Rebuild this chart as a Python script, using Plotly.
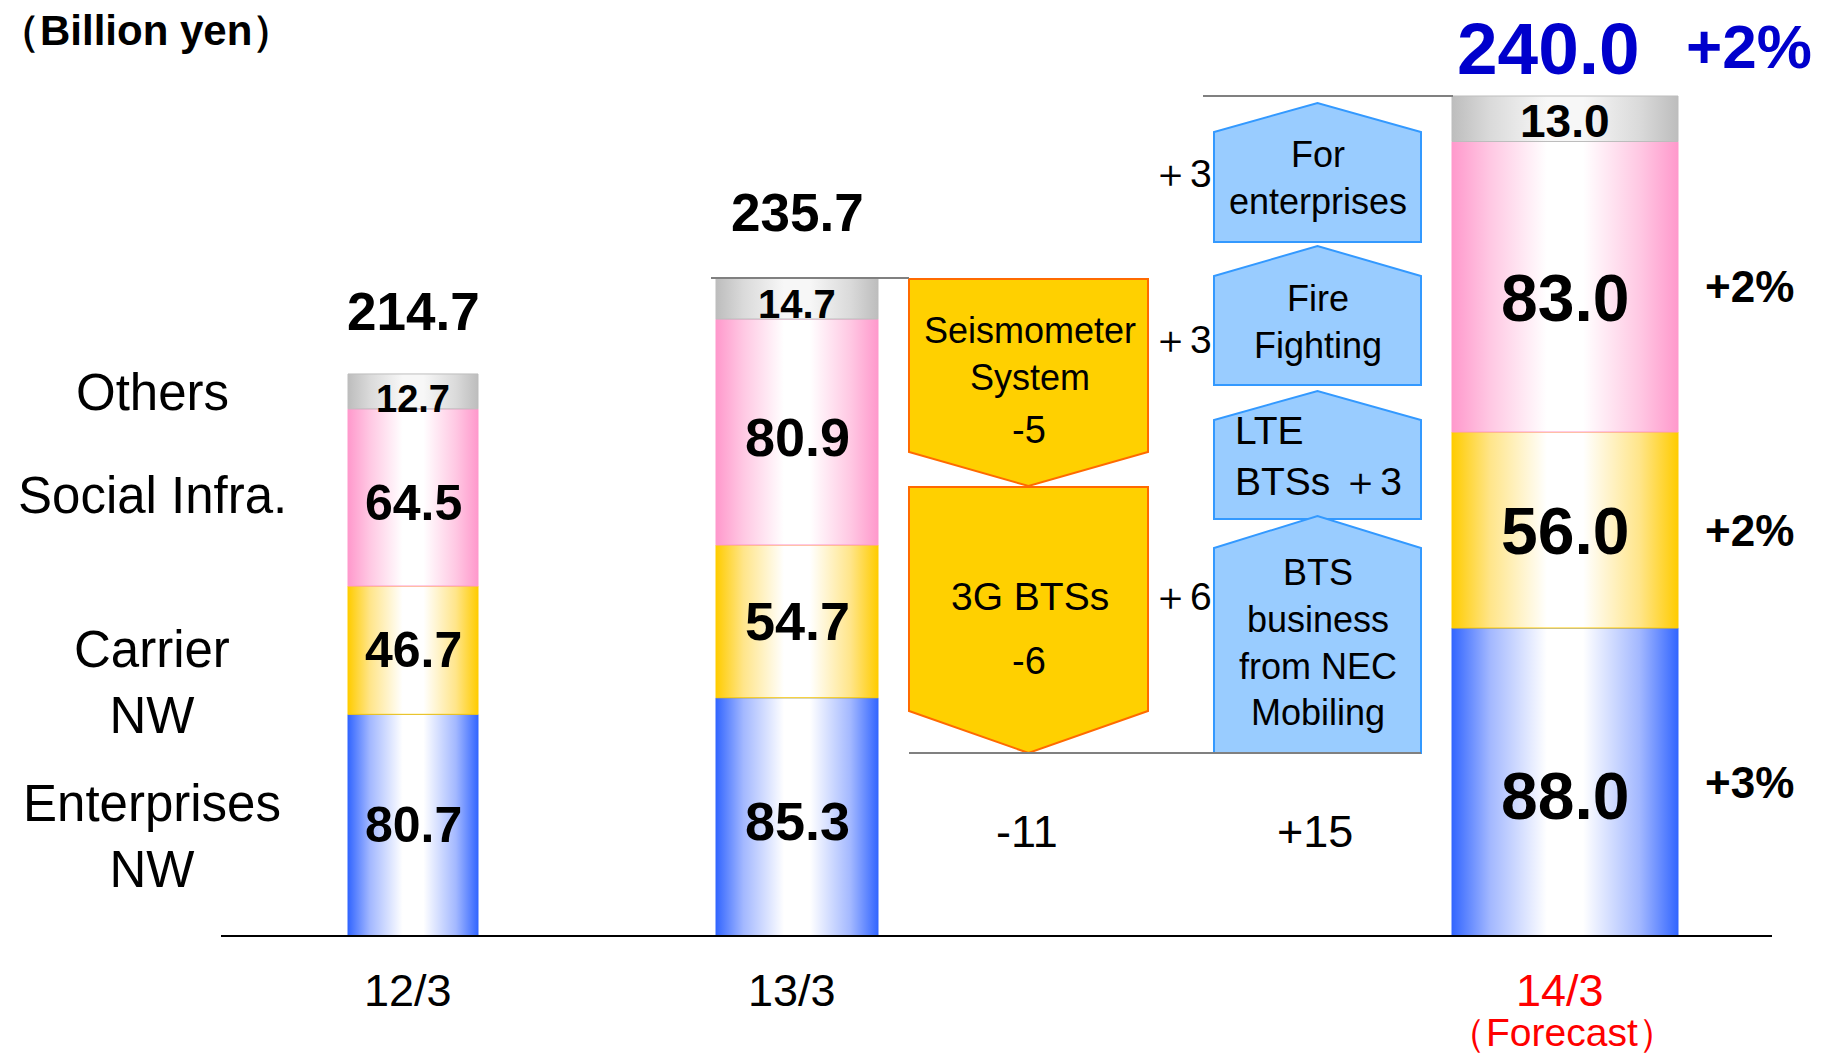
import plotly.graph_objects as go

# ---------------- data ----------------
periods = ["12/3", "13/3", "14/3"]
period_notes = ["", "", "（Forecast）"]
segment_names = ["Enterprises<br>NW", "Carrier<br>NW", "Social Infra.", "Others"]
enterprises = [80.7, 85.3, 88.0]
carrier = [46.7, 54.7, 56.0]
social = [64.5, 80.9, 83.0]
others = [12.7, 14.7, 13.0]
totals = [214.7, 235.7, 240.0]
forecast_total_growth = "+2%"
forecast_segment_growth = ["+3%", "+2%", "+2%"]  # enterprises, carrier, social

decrease_items = ["Seismometer<br>System", "3G BTSs"]
decrease_values = [-5, -6]
decrease_total = -11
increase_items = ["For<br>enterprises", "Fire<br>Fighting", "LTE<br>BTSs", "BTS<br>business<br>from NEC<br>Mobiling"]
increase_values = [3, 3, 3, 6]
increase_total = 15

# ---------------- layout / style ----------------
W, H = 1828, 1057
BASE_PX = 936                      # pixel row of the zero line
PX_PER_UNIT = [2.747, 2.793, 3.5]  # each bar is drawn on its own (non-proportional) scale
BAR_CX = [413, 797, 1565]
BAR_W = [130, 162, 226]
FONT = "Liberation Sans, Arial, sans-serif"

def gradient(edge, mid, center):
    return [[0, edge], [0.17, mid], [0.42, center], [0.58, center], [0.83, mid], [1, edge]]

SEG_SCALES = [
    gradient("#3366FF", "#A3B8FF", "#FFFFFF"),
    gradient("#FFCC00", "#FFE58A", "#FFFFFF"),
    gradient("#FF99CC", "#FFC8E3", "#FFFFFF"),
    gradient("#BDBDBD", "#DADADA", "#F7F7F7"),
]
SEG_EDGE = ["#3366FF", "#FFCC00", "#FF99CC", "#BDBDBD"]
SEG_FONT = [[50, 54, 66], [50, 54, 66], [50, 54, 66], [38, 40, 46]]
# small pixel nudges of the value labels [bar][segment]
SEG_LABEL_SHIFT = [[0, 0, -6, -8], [-4, 0, -5, -5], [-14, -1, -11, -2]]
TOTAL_SHIFT = [62, 65, 48]
TOTAL_SIZE = [53, 53, 73]
YAX = ["y", "y2", "y3"]
PIX = "y4"  # pixel-row helper axis for decorations

fig = go.Figure()

series = [enterprises, carrier, social, others]
seg_centers = [[0] * 4 for _ in range(3)]
bar_tops = []
for i in range(3):
    cum = 0.0
    x0 = BAR_CX[i] - BAR_W[i] / 2
    x1 = BAR_CX[i] + BAR_W[i] / 2
    for j, s in enumerate(series):
        v = s[i]
        fig.add_trace(go.Scatter(
            x=[x0, x1, x1, x0, x0], y=[cum, cum, cum + v, cum + v, cum],
            mode="lines", line=dict(width=1, color=SEG_EDGE[j]),
            fill="toself", fillgradient=dict(type="horizontal", colorscale=SEG_SCALES[j]),
            yaxis=YAX[i], hoverinfo="skip", showlegend=False,
        ))
        seg_centers[i][j] = cum + v / 2
        cum += v
    bar_tops.append(cum)

ann = []
# segment value labels
for i in range(3):
    for j, s in enumerate(series):
        ann.append(dict(x=BAR_CX[i], y=seg_centers[i][j], yref=YAX[i], xref="x",
                        text=f"<b>{s[i]:.1f}</b>", showarrow=False,
                        yshift=SEG_LABEL_SHIFT[i][j],
                        font=dict(family=FONT, size=SEG_FONT[j][i], color="black")))
# totals
for i in range(3):
    col = "#0000CC" if i == 2 else "black"
    ann.append(dict(x=BAR_CX[i], y=bar_tops[i], yref=YAX[i], xref="x",
                    text=f"<b>{totals[i]:.1f}</b>", showarrow=False, yshift=TOTAL_SHIFT[i],
                    xshift=(-17 if i == 2 else 0), borderpad=0,
                    font=dict(family=FONT, size=TOTAL_SIZE[i], color=col)))
ann.append(dict(x=1749, y=bar_tops[2], yref="y3", xref="x", text=f"<b>{forecast_total_growth}</b>",
                showarrow=False, yshift=50, borderpad=0, font=dict(family=FONT, size=62, color="#0000CC")))
# forecast growth by segment
for j, g in enumerate(forecast_segment_growth):
    ann.append(dict(x=1749, y=seg_centers[2][j], yref="y3", xref="x", text=f"<b>{g}</b>",
                    showarrow=False, font=dict(family=FONT, size=44, color="black")))

# period labels
for i in range(3):
    col = "#FF0000" if period_notes[i] else "black"
    ann.append(dict(x=BAR_CX[i] - 5, y=990, yref=PIX, xref="x", text=periods[i], showarrow=False,
                    borderpad=0, font=dict(family=FONT, size=45, color=col)))
    if period_notes[i]:
        ann.append(dict(x=BAR_CX[i] - 3, y=1032, yref=PIX, xref="x", text=period_notes[i],
                        showarrow=False, borderpad=0, font=dict(family=FONT, size=39, color=col)))

# segment names at left
LEFT_Y = [836, 682, 495, 392]
for j, name in enumerate(segment_names):
    ann.append(dict(x=152, y=LEFT_Y[j], yref=PIX, xref="x", text=name, showarrow=False,
                    font=dict(family=FONT, size=51, color="black")))

ann.append(dict(x=146, y=6, yref=PIX, xref="x", yanchor="top", text="<b>（Billion yen）</b>",
                showarrow=False, borderpad=0, font=dict(family=FONT, size=42, color="black")))

# ---- decrease boxes (orange, pointing down)
DEC_BOX = [(909, 1148, 279, 452, 486), (909, 1148, 487, 711, 753)]
DEC_NAME_Y = [354, 596]
DEC_VAL_Y = [430, 661]
DEC_NAME_SIZE = [36, 39]
shapes = []
for k, (xa, xb, yt, ys, yp) in enumerate(DEC_BOX):
    xm = (xa + xb) / 2
    shapes.append(dict(type="path", xref="x", yref=PIX,
                       path=f"M{xa},{yt} L{xb},{yt} L{xb},{ys} L{xm},{yp} L{xa},{ys} Z",
                       fillcolor="#FFD000", line=dict(color="#FF6A00", width=2)))
    ann.append(dict(x=xm + 1, y=DEC_NAME_Y[k], yref=PIX, xref="x", text=decrease_items[k],
                    showarrow=False, font=dict(family=FONT, size=DEC_NAME_SIZE[k], color="black")))
    ann.append(dict(x=xm, y=DEC_VAL_Y[k], yref=PIX, xref="x", text=f"{decrease_values[k]}",
                    showarrow=False, font=dict(family=FONT, size=38, color="black")))

# ---- increase boxes (blue, pointing up)
INC_BOX = [(1214, 1421, 103, 132, 242), (1214, 1421, 246, 276, 385),
           (1214, 1421, 391, 420, 519), (1214, 1421, 516, 548, 753)]
INC_TEXT_Y = [178, 322, 456, 642]
INC_VAL_Y = [173, 339, None, 596]
for k, (xa, xb, ya, ys, yb) in enumerate(INC_BOX):
    xm = (xa + xb) / 2
    shapes.append(dict(type="path", xref="x", yref=PIX,
                       path=f"M{xa},{yb} L{xa},{ys} L{xm},{ya} L{xb},{ys} L{xb},{yb} Z",
                       fillcolor="#99CCFF", line=dict(color="#3399FF", width=2)))
    val = f"＋{increase_values[k]}"
    if INC_VAL_Y[k] is None:
        ann.append(dict(x=1233, y=INC_TEXT_Y[k], yref=PIX, xref="x", xanchor="left", align="left",
                        text=increase_items[k] + " " + val, showarrow=False,
                        font=dict(family=FONT, size=39, color="black")))
    else:
        ann.append(dict(x=xm, y=INC_TEXT_Y[k], yref=PIX, xref="x", text=increase_items[k],
                        showarrow=False, font=dict(family=FONT, size=36, color="black")))
        ann.append(dict(x=1181, y=INC_VAL_Y[k], yref=PIX, xref="x", text=val, showarrow=False,
                        font=dict(family=FONT, size=39, color="black")))

ann.append(dict(x=1027, y=831, yref=PIX, xref="x", text=f"{decrease_total}", showarrow=False,
                font=dict(family=FONT, size=45, color="black")))
ann.append(dict(x=1315, y=831, yref=PIX, xref="x", text=f"+{increase_total}", showarrow=False,
                font=dict(family=FONT, size=45, color="black")))

# connector lines
shapes.append(dict(type="line", xref="x", yref="y2", x0=711, x1=909, y0=bar_tops[1], y1=bar_tops[1],
                   line=dict(color="#808080", width=2)))
shapes.append(dict(type="line", xref="x", yref="y3", x0=1203, x1=1453, y0=bar_tops[2], y1=bar_tops[2],
                   line=dict(color="#808080", width=2)))
shapes.append(dict(type="line", xref="x", yref=PIX, x0=909, x1=1421, y0=753, y1=753,
                   line=dict(color="#808080", width=2)))
# baseline
shapes.append(dict(type="line", xref="x", yref="y", x0=221, x1=1772, y0=0, y1=0,
                   line=dict(color="black", width=2), layer="above"))

def yrange(k):
    return [-(H - BASE_PX) / k, BASE_PX / k]

hidden = dict(visible=False, showgrid=False, zeroline=False, fixedrange=True)
fig.update_layout(
    width=W, height=H, autosize=False,
    margin=dict(l=0, r=0, t=0, b=0, pad=0),
    paper_bgcolor="white", plot_bgcolor="white", showlegend=False,
    xaxis=dict(range=[0, W], **hidden),
    yaxis=dict(range=yrange(PX_PER_UNIT[0]), **hidden),
    yaxis2=dict(range=yrange(PX_PER_UNIT[1]), overlaying="y", **hidden),
    yaxis3=dict(range=yrange(PX_PER_UNIT[2]), overlaying="y", **hidden),
    yaxis4=dict(range=[H, 0], overlaying="y", **hidden),
    annotations=ann, shapes=shapes,
)
fig.write_html("out.html")
